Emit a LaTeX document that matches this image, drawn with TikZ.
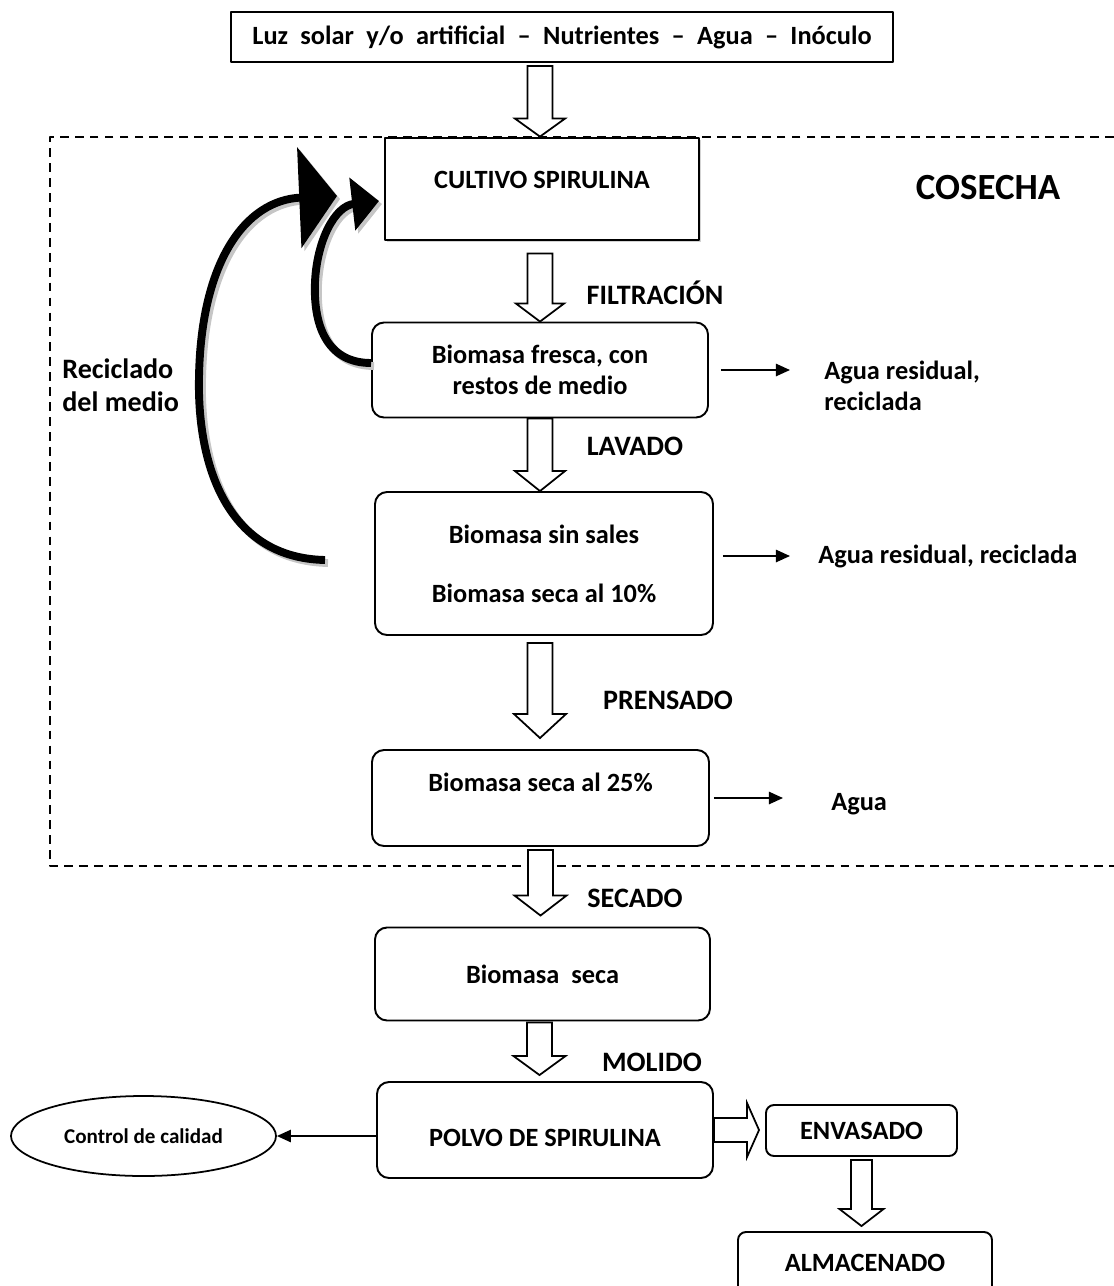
\documentclass[tikz,border=0pt]{standalone}
\usepackage{fontspec}
\setmainfont{Carlito}
\usetikzlibrary{arrows.meta,calc,shapes.geometric,shadows}
\newlength{\px}
\setlength{\px}{0.02cm}

% hollow block arrow pointing down: start, tip, shaft half width, head half width, head length
\newcommand{\blockdown}[5]{%
  \draw[hollow] let \p1=(#1), \p2=(#2) in
    (\x1-#3\px,\y1) -- (\x1-#3\px,\y2+#5\px) -- (\x1-#4\px,\y2+#5\px)
    -- (\x1,\y2) -- (\x1+#4\px,\y2+#5\px) -- (\x1+#3\px,\y2+#5\px)
    -- (\x1+#3\px,\y1) -- cycle;}
% same, pointing right
\newcommand{\blockright}[5]{%
  \draw[hollow] let \p1=(#1), \p2=(#2) in
    (\x1,\y1+#3\px) -- (\x2-#5\px,\y1+#3\px) -- (\x2-#5\px,\y1+#4\px)
    -- (\x2,\y1) -- (\x2-#5\px,\y1-#4\px) -- (\x2-#5\px,\y1-#3\px)
    -- (\x1,\y1-#3\px) -- cycle;}

\begin{document}
\begin{tikzpicture}[x=0.02cm,y=-0.02cm,line join=round,
  font=\bfseries\fontsize{15}{18}\selectfont,
  box/.style={draw,line width=1.1pt,align=center,inner sep=0pt},
  rbox/.style={box,rounded corners=12\px},
  steplabel/.style={font=\bfseries\fontsize{16}{19}\selectfont,inner sep=0pt},
  note/.style={align=left,inner sep=0pt,anchor=west},
  hollow/.style={draw,fill=white,line width=1pt,line join=miter},
  thinarrow/.style={line width=1pt,-{Triangle[length=8pt,width=7pt]}},
  recycle/.style={line width=4.5pt},
  frame/.style={line width=1.1pt,dash pattern=on 5pt off 3.5pt}]
  \useasboundingbox (0,0) rectangle (1114,1286);

  % Harvest zone
  \draw[frame] (1114,137) -- (50,137) -- (50,866) -- (1114,866);
  \node[font=\bfseries\fontsize{21}{25}\selectfont] (cosecha) at (988,188) {COSECHA};

  % Process boxes
  \node[box,line width=1pt,minimum width=662\px,minimum height=50\px] (inputs) at (562,37)
    {\spaceskip=7pt Luz solar y/o artificial – Nutrientes – Agua – Inóculo};
  \node[box,line width=1.6pt,fill=white,drop shadow={shadow xshift=1pt,shadow yshift=-1pt,opacity=0.35},
    text height=10.5pt,text depth=11pt,
    minimum width=314\px,minimum height=102\px] (cultivo) at (542,189) {CULTIVO SPIRULINA};
  \node[rbox,minimum width=336\px,minimum height=95\px] (fresca) at (540,370)
    {Biomasa fresca, con\\restos de medio};
  \node[rbox,minimum width=338\px,minimum height=143\px] (sales) at (544,563.5)
    {Biomasa sin sales\\[15.5pt]Biomasa seca al 10\%};
  \node[rbox,text height=10.5pt,text depth=18pt,minimum width=337\px,minimum height=96\px]
    (seco25) at (540.5,798) {Biomasa seca al 25\%};
  \node[rbox,minimum width=335\px,minimum height=93\px] (secado) at (542.5,974)
    {Biomasa~~seca};
  \node[rbox,text height=22pt,text depth=3pt,minimum width=336\px,minimum height=96\px]
    (polvo) at (545,1130) {POLVO DE SPIRULINA};
  \node[rbox,rounded corners=8\px,minimum width=191\px,minimum height=51\px] (envasado)
    at (861.5,1130.5) {ENVASADO};
  \node[rbox,rounded corners=8\px,minimum width=254\px,minimum height=62\px] (almacenado)
    at (865,1263) {ALMACENADO};
  \node[draw,ellipse,line width=1pt,minimum width=265\px,minimum height=80\px,
    font=\bfseries\fontsize{12}{14}\selectfont] (control) at (143.5,1136) {Control de calidad};

  % Step names
  \node[steplabel] (lblfiltr) at (655,293) {FILTRACIÓN};
  \node[steplabel] (lbllavado) at (635,446) {LAVADO};
  \node[steplabel] (lblprensado) at (668,700) {PRENSADO};
  \node[steplabel] (lblsecado) at (635,898) {SECADO};
  \node[steplabel] (lblmolido) at (652,1062) {MOLIDO};
  \node[steplabel,note] (lblrecic) at (62,385) {Reciclado\\del medio};

  % Water outputs
  \node[note] (agua1) at (824,386) {Agua residual,\\reciclada};
  \node[note] (agua2) at (818,556) {Agua residual, reciclada};
  \node[note] (agua3) at (831,804) {Agua};
  \draw[thinarrow,shorten <=12\px,shorten >=34\px] (fresca.east) -- (fresca.east -| agua1.west);
  \draw[thinarrow,shorten <=9\px,shorten >=28\px] (agua2.west -| sales.east) -- (agua2.west);
  \draw[thinarrow,shorten <=4\px,shorten >=48\px] (seco25.east) -- (seco25.east -| agua3.west);
  \draw[thinarrow] (polvo.west |- control.east) -- (control.east);

  % Main flow
  \blockdown{$(inputs.south)+(-22,3)$}{cultivo.north}{12.5}{25}{18}
  \blockdown{$(cultivo.south)+(-2,12)$}{fresca.north}{12.5}{24}{18}
  \blockdown{fresca.south}{sales.north}{12.5}{25}{20}
  \blockdown{$(sales.south)+(-4,7)$}{$(seco25.north)+(0,-11)$}{12.5}{26}{24}
  \blockdown{$(seco25.south)+(0,3)$}{$(secado.north)+(0,-11)$}{12.5}{26}{20}
  \blockdown{$(secado.south)+(-3,1)$}{$(polvo.north)+(0,-6)$}{12.5}{26}{19}
  \blockright{polvo.east}{$(envasado.west)+(-6,0)$}{12}{27}{12}
  \blockdown{$(envasado.south)+(0,3)$}{$(almacenado.north)+(0,-5)$}{10.5}{22}{17}

  % Medium recycling, with shadow
  \coordinate (bigstart) at (325,560);
  \coordinate (bigtip) at (337,196);
  \coordinate (smalltip) at (379,201);
  \foreach \col/\d in {gray!45/3,black/0}{
    \draw[recycle,\col,-{Triangle[length=21.5pt,width=56.7pt]},transform canvas={shift={(\d,\d)}}]
      (bigstart) .. controls (230,558) and (197,470) .. (199,377)
      .. controls (201,262) and (245,200) .. (bigtip);
    \draw[recycle,\col,-{Triangle[length=15.3pt,width=29.5pt]},transform canvas={shift={(\d,\d)}}]
      ([yshift=7\px]fresca.west) .. controls (330,363) and (313,330) .. (315,282)
      .. controls (317,240) and (335,206) .. (smalltip);
  }
\end{tikzpicture}
\end{document}
